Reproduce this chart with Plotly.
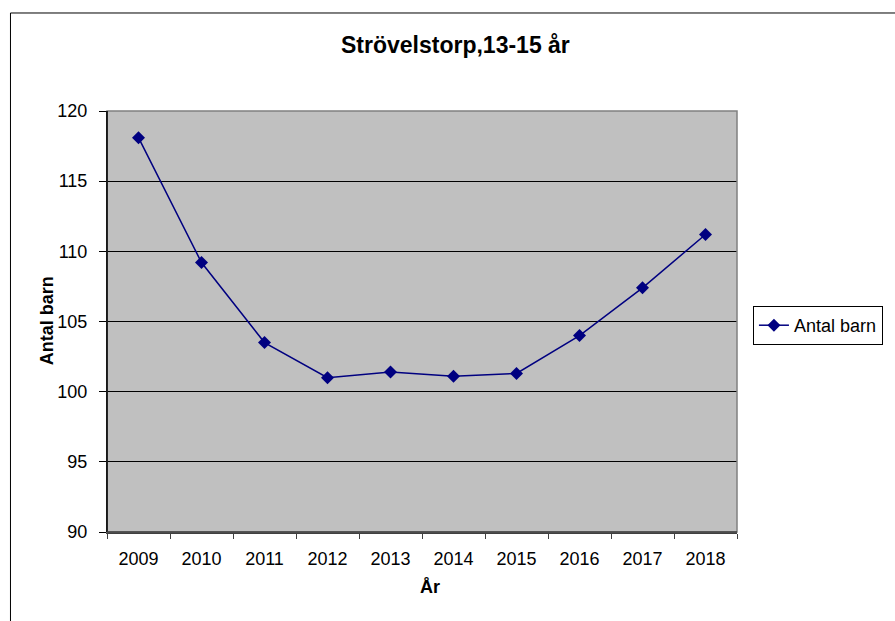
import plotly.graph_objects as go

years = ["2009", "2010", "2011", "2012", "2013", "2014", "2015", "2016", "2017", "2018"]
antal_barn = [118.1, 109.2, 103.5, 101.0, 101.4, 101.1, 101.3, 104.0, 107.4, 111.2]
y_ticks = [90, 95, 100, 105, 110, 115, 120]

title_text = "Strövelstorp,13-15 år"
x_title = "År"
y_title = "Antal barn"
series_name = "Antal barn"

FONT = "Liberation Sans, Arial, sans-serif"

fig = go.Figure()
fig.add_trace(go.Scatter(
    x=years, y=antal_barn, name=series_name, mode="lines+markers",
    line=dict(color="#000080", width=1.5),
    marker=dict(symbol="diamond", size=10, color="#000080"),
    showlegend=True,
))

fig.update_layout(
    width=895, height=621,
    margin=dict(l=107, r=155, t=111, b=89),
    paper_bgcolor="white",
    plot_bgcolor="#C0C0C0",
    font=dict(family=FONT, size=18, color="black"),
    showlegend=True,
    legend=dict(
        x=1.0253, y=0.5368, xanchor="left", yanchor="top",
        bgcolor="white", bordercolor="black", borderwidth=1,
        font=dict(family=FONT, size=18, color="black"),
        tracegroupgap=0,
    ),
    xaxis=dict(
        type="category", range=[-0.5, 9.5],
        showgrid=False, zeroline=False,
        showline=True, linecolor="#404040", linewidth=1.5,
        ticks="outside", tickson="boundaries", ticklen=5, tickcolor="#404040", tickwidth=1,
        tickfont=dict(family=FONT, size=18, color="black"),
        ticklabelstandoff=10,
        fixedrange=True,
    ),
    yaxis=dict(
        range=[90, 120], tickvals=y_ticks,
        showgrid=True, gridcolor="black", gridwidth=1,
        zeroline=False,
        showline=True, linecolor="black", linewidth=1,
        ticks="outside", ticklen=7, tickcolor="black", tickwidth=1,
        tickfont=dict(family=FONT, size=18, color="black"),
        ticklabelstandoff=8,
        fixedrange=True,
    ),
    shapes=[
        # plot area border (top/right gray)
        dict(type="rect", xref="paper", yref="paper", x0=0, x1=1, y0=0, y1=1,
             line=dict(color="#808080", width=1.5), layer="above"),
        # chart outer frame
        dict(type="rect", xref="paper", yref="paper", x0=-0.1532, x1=1.2607,
             y0=-0.2565, y1=1.2328, line=dict(color="black", width=1), layer="below"),
    ],
    annotations=[
        dict(text="<b>" + title_text + "</b>", xref="paper", yref="paper",
             x=0.5529, y=1.1568, xanchor="center", yanchor="middle", showarrow=False,
             font=dict(family=FONT, size=23, color="black")),
        dict(text="<b>" + y_title + "</b>", xref="paper", yref="paper",
             x=-0.0948, y=0.5012, xanchor="center", yanchor="middle", showarrow=False,
             textangle=-90, font=dict(family=FONT, size=18, color="black")),
        dict(text="<b>" + x_title + "</b>", xref="paper", yref="paper",
             x=0.5134, y=-0.1306, xanchor="center", yanchor="middle", showarrow=False,
             font=dict(family=FONT, size=18, color="black")),
    ],
)

# redraw left/bottom axis lines above the gray border
fig.add_shape(type="line", xref="paper", yref="paper", x0=0, x1=0, y0=0, y1=1,
              line=dict(color="black", width=1.5), layer="above")
fig.add_shape(type="line", xref="paper", yref="paper", x0=0, x1=1, y0=0, y1=0,
              line=dict(color="#404040", width=1.5), layer="above")

fig.write_html(
    "out.html",
    config={"displayModeBar": False},
    post_script="document.body.style.margin='0';document.body.style.padding='0';document.body.style.overflow='hidden';",
)
